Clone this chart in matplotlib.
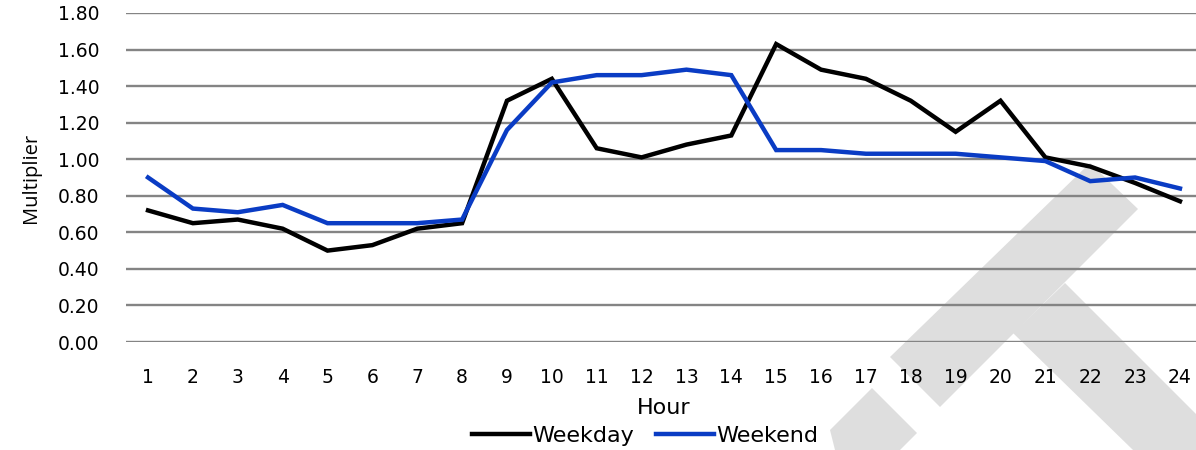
import matplotlib
matplotlib.use("Agg")
import matplotlib.pyplot as plt
from matplotlib.patches import Polygon

plt.rcParams['font.family'] = ['DejaVu Sans']

hours = list(range(1, 25))
weekday = [0.72, 0.65, 0.67, 0.62, 0.50, 0.53, 0.62, 0.65, 1.32, 1.44, 1.06, 1.01,
           1.08, 1.13, 1.63, 1.49, 1.44, 1.32, 1.15, 1.32, 1.01, 0.96, 0.87, 0.77]
weekend = [0.90, 0.73, 0.71, 0.75, 0.65, 0.65, 0.65, 0.67, 1.16, 1.42, 1.46, 1.46,
           1.49, 1.46, 1.05, 1.05, 1.03, 1.03, 1.03, 1.01, 0.99, 0.88, 0.90, 0.84]
yticks = [0.0, 0.2, 0.4, 0.6, 0.8, 1.0, 1.2, 1.4, 1.6, 1.8]

W, H = 1196, 450
fig = plt.figure(figsize=(W / 100, H / 100), dpi=100)

# grey watermark shapes behind the chart (pixel coords of the image)
shapes = [
    [(1090, 163), (1138, 209), (940, 407), (890, 357)],
    [(872, 388), (917, 433), (900, 450), (835, 450), (830, 430)],
    [(1065, 283), (1196, 414), (1196, 450), (1133, 450), (1013, 333)],
]
for pts in shapes:
    fig.patches.append(Polygon([(x / W, 1 - y / H) for x, y in pts], closed=True,
                               transform=fig.transFigure, facecolor='#dedede',
                               edgecolor='none', zorder=-5))

ax = fig.add_axes([125.6 / W, 1 - 342 / H, 1076.8 / W, 329 / H])
ax.set_facecolor('none')

ax.plot(hours, weekday, color='black', lw=3.2, label='Weekday', solid_joinstyle='miter')
ax.plot(hours, weekend, color='#0a3cc4', lw=3.2, label='Weekend', solid_joinstyle='miter')

ax.set_xlim(0.5, 24.5)
ax.set_ylim(0, 1.8)
ax.set_yticks(yticks)
ax.set_yticklabels([f"{v:.2f}" for v in yticks])
ax.set_xticks(hours)
ax.yaxis.grid(True, color='#848484', lw=1.7)
ax.set_axisbelow(True)
for s in ax.spines.values():
    s.set_visible(False)
ax.tick_params(length=0, labelsize=13.5, colors='black')
ax.tick_params(axis='x', pad=19)
ax.tick_params(axis='y', pad=19)

ax.set_xlabel('Hour', fontsize=16, labelpad=8)
ax.set_ylabel('Multiplier', fontsize=14.5, family=['Open Sans', 'DejaVu Sans'], labelpad=12)

fig.legend(loc='center', bbox_to_anchor=(645 / W, 1 - 436 / H), ncol=2, frameon=False,
           fontsize=16, handlelength=2.6, handletextpad=0.1, columnspacing=1.0,
           borderpad=0)

fig.savefig('out.png', dpi=100)
